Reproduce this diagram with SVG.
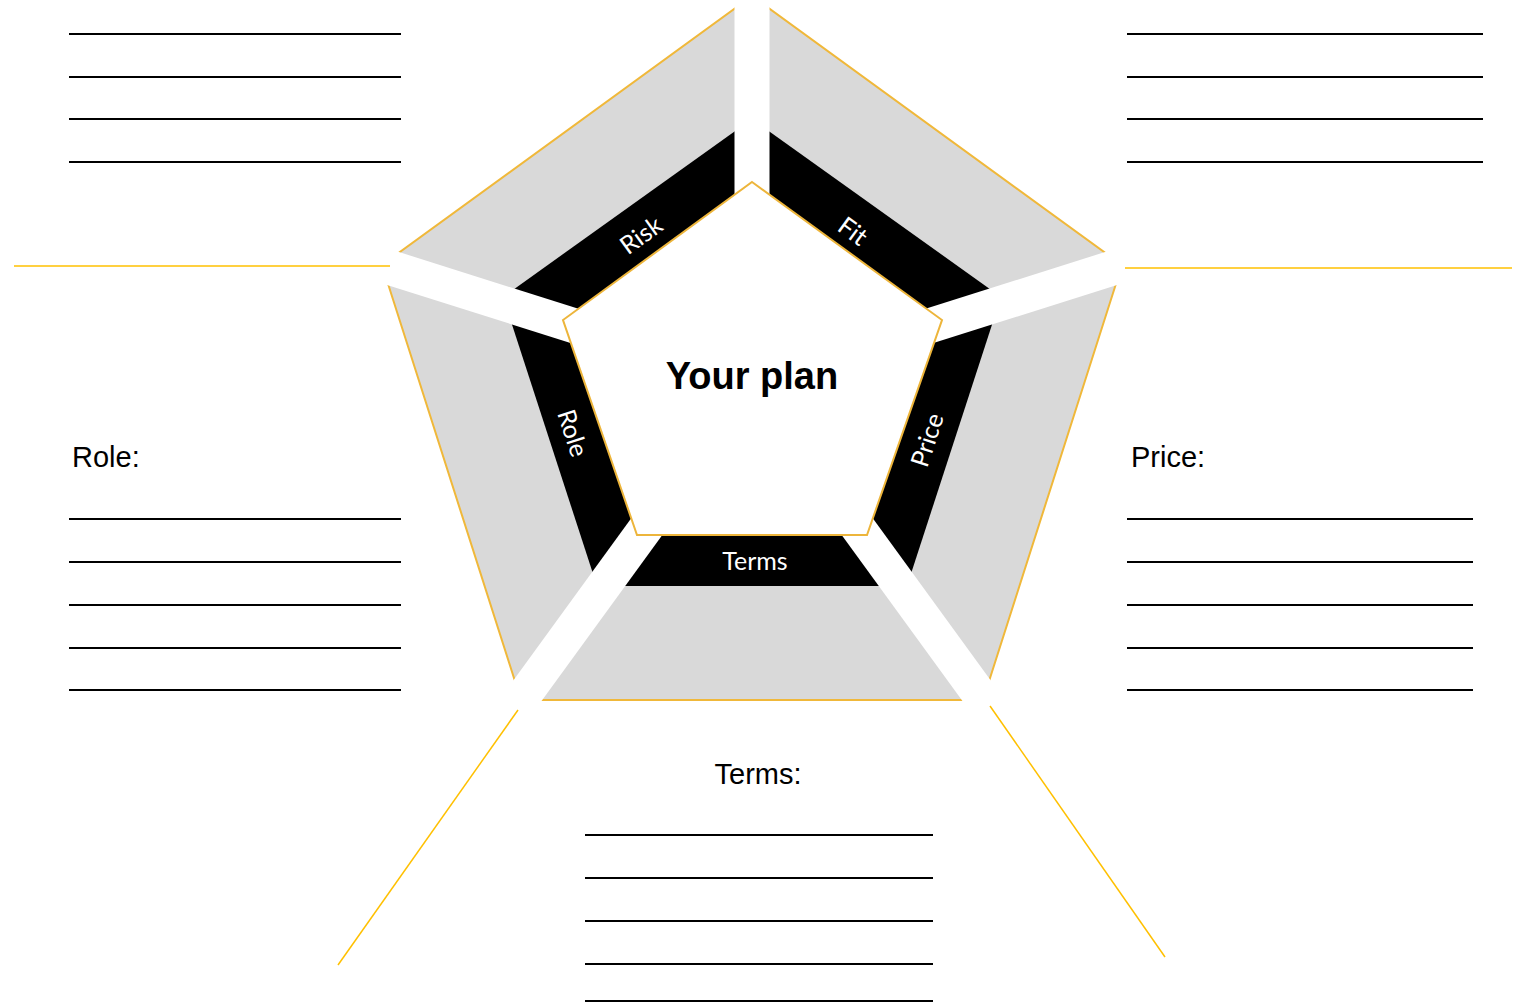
<svg xmlns="http://www.w3.org/2000/svg" width="1517" height="1003" viewBox="0 0 1517 1003">
<style>
.rule{stroke:#000;stroke-width:2.2;fill:none}
.gold{stroke:#FFC000;stroke-width:1.5;fill:none}
.outer{fill:#D9D9D9;stroke:#F0B83A;stroke-width:2}
.band{fill:#000}
.spoke{stroke:#fff;stroke-width:35;stroke-linecap:butt;fill:none}
.inner{fill:#fff;stroke:#EDB53B;stroke-width:2}
.seg{font-family:Lato,"Open Sans",sans-serif;font-size:25px;fill:#fff;text-anchor:middle}
.head{font-family:"Liberation Sans",Arial,sans-serif;font-size:29px;fill:#000}
.title{font-family:"Liberation Sans",Arial,sans-serif;font-size:38px;font-weight:bold;fill:#000;text-anchor:middle}
</style>

<g id="pentagon">
  <polygon class="outer" points="752,-4 1122,265 983,700 521,700 382,265"/>
  <polygon class="band" points="752,119 1001,297 907,586 597,586 503,297"/>
  <g id="gaps">
    <line class="spoke" x1="752" y1="382" x2="752" y2="-30"/>
    <line class="spoke" x1="752" y1="382" x2="1141" y2="259"/>
    <line class="spoke" x1="752" y1="382" x2="995" y2="716"/>
    <line class="spoke" x1="752" y1="382" x2="509" y2="716"/>
    <line class="spoke" x1="752" y1="382" x2="363" y2="259"/>
  </g>
</g>

<g id="center-node">
  <polygon class="inner" points="752,182 942,320 867,535 637,535 563,320"/>
  <text class="title" x="752" y="389">Your plan</text>
</g>

<g id="seg-risk"><text class="seg" transform="translate(641,235) rotate(-36)" y="9">Risk</text></g>
<g id="seg-fit"><text class="seg" transform="translate(853,231) rotate(36)" y="9">Fit</text></g>
<g id="seg-price"><text class="seg" transform="translate(927,440) rotate(-72)" y="9">Price</text></g>
<g id="seg-terms"><text class="seg" x="755" y="570">Terms</text></g>
<g id="seg-role"><text class="seg" transform="translate(573,433) rotate(72)" y="9">Role</text></g>

<g id="connectors">
  <line class="gold" x1="14" y1="266" x2="390" y2="266"/>
  <line class="gold" x1="1125" y1="268" x2="1512" y2="268"/>
  <line class="gold" x1="518" y1="710" x2="338" y2="965"/>
  <line class="gold" x1="990" y1="706" x2="1165" y2="957"/>
</g>

<g id="notes-top-left">
  <line class="rule" x1="69" y1="34" x2="401" y2="34"/>
  <line class="rule" x1="69" y1="77" x2="401" y2="77"/>
  <line class="rule" x1="69" y1="119" x2="401" y2="119"/>
  <line class="rule" x1="69" y1="162" x2="401" y2="162"/>
</g>
<g id="notes-top-right">
  <line class="rule" x1="1127" y1="34" x2="1483" y2="34"/>
  <line class="rule" x1="1127" y1="77" x2="1483" y2="77"/>
  <line class="rule" x1="1127" y1="119" x2="1483" y2="119"/>
  <line class="rule" x1="1127" y1="162" x2="1483" y2="162"/>
</g>
<g id="notes-role">
  <text class="head" x="72" y="467">Role:</text>
  <line class="rule" x1="69" y1="519" x2="401" y2="519"/>
  <line class="rule" x1="69" y1="562" x2="401" y2="562"/>
  <line class="rule" x1="69" y1="605" x2="401" y2="605"/>
  <line class="rule" x1="69" y1="648" x2="401" y2="648"/>
  <line class="rule" x1="69" y1="690" x2="401" y2="690"/>
</g>
<g id="notes-price">
  <text class="head" x="1131" y="467">Price:</text>
  <line class="rule" x1="1127" y1="519" x2="1473" y2="519"/>
  <line class="rule" x1="1127" y1="562" x2="1473" y2="562"/>
  <line class="rule" x1="1127" y1="605" x2="1473" y2="605"/>
  <line class="rule" x1="1127" y1="648" x2="1473" y2="648"/>
  <line class="rule" x1="1127" y1="690" x2="1473" y2="690"/>
</g>
<g id="notes-terms">
  <text class="head" x="758" y="784" text-anchor="middle">Terms:</text>
  <line class="rule" x1="585" y1="835" x2="933" y2="835"/>
  <line class="rule" x1="585" y1="878" x2="933" y2="878"/>
  <line class="rule" x1="585" y1="921" x2="933" y2="921"/>
  <line class="rule" x1="585" y1="964" x2="933" y2="964"/>
  <line class="rule" x1="585" y1="1001" x2="933" y2="1001"/>
</g>
</svg>
